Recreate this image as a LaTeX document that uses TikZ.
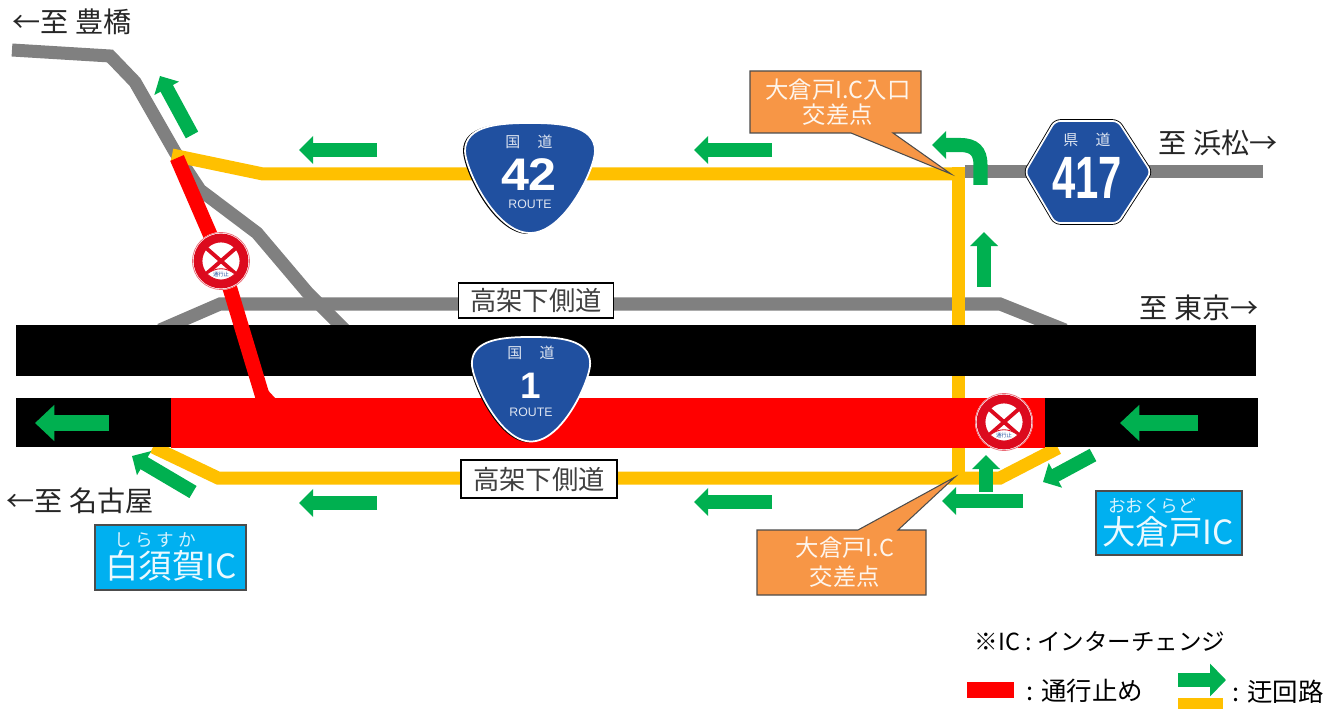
\documentclass[tikz,border=0pt]{standalone}
\usepackage{fontspec}
\setmainfont{Liberation Sans}
\newfontfamily\jp{Noto Sans CJK JP}
\usetikzlibrary{arrows.meta}
\definecolor{roadgray}{HTML}{808080}
\definecolor{detourgold}{HTML}{FFC000}
\definecolor{detourgreen}{HTML}{00B050}
\definecolor{closedred}{HTML}{FF0000}
\definecolor{signred}{HTML}{DC0A1E}
\definecolor{shieldblue}{HTML}{2050A0}
\definecolor{icblue}{HTML}{00B0F0}
\definecolor{calloutorange}{HTML}{F79646}
\newcommand{\fsize}[1]{\fontsize{#1}{#1}\selectfont}
\tikzset{
  routeshield/.pic={
    \fill[black] (-2,0) .. controls (-32,0) and (-67,2) .. (-67,28) .. controls (-67,46) and (-37,111) .. (-2,111) -- (2,0) -- cycle;
    \draw[fill=shieldblue,draw=white,line width=1pt] (0,0) .. controls (-30,0) and (-65,2) .. (-65,28) .. controls (-65,45) and (-35,110) .. (0,110) .. controls (35,110) and (65,45) .. (65,28) .. controls (65,2) and (30,0) .. (0,0) -- cycle;
  },
  closedsign/.pic={
    \fill[white] (0,0) circle (29);
    \draw[signred!60,line width=.4pt] (0,0) circle (28.5);
    \draw[signred,line width=5pt] (0,0) circle (23);
    \draw[signred,line width=2.2pt] (-16,-14) -- (16,14) (16,-14) -- (-16,14);
    \fill[white,draw=signred,line width=.5pt] (-14,13) .. controls (-5,6) and (5,6) .. (14,13) .. controls (5,21) and (-5,21) .. (-14,13);
    \node[text=shieldblue,inner sep=0pt] (note) at (0,14) {\jp\fsize{3}通行止};
  }
}
\begin{document}
\begin{tikzpicture}[x=0.02cm,y=-0.02cm]
    \tikzstyle{road}=[line width=7.4pt,roadgray]
    \tikzstyle{goldroad}=[line width=7.4pt,detourgold]
    \tikzstyle{closed}=[line width=8.4pt,closedred]
    \tikzstyle{detour}=[line width=8pt,detourgreen,-{Triangle[length=8pt,width=15.5pt]}]
    \tikzstyle{bigdetour}=[line width=9.5pt,detourgreen,-{Triangle[length=11pt,width=20pt]}]
    \tikzstyle{lettering}=[inner sep=0pt,font=\jp\fsize{16},text=black!85]
    \tikzstyle{legendtext}=[inner sep=0pt,font=\jp\fsize{14.5},text=black]
    \tikzstyle{sidebox}=[draw=black,line width=.8pt,fill=white,inner sep=0pt,font=\jp\fsize{15},text=black!75]
    \tikzstyle{callout}=[fill=calloutorange,draw=black!70,line width=.6pt]
    \tikzstyle{calltext}=[inner sep=0pt,font=\jp\fsize{13.3},text=white!90!calloutorange]
    \tikzstyle{icbox}=[fill=icblue,draw=black!70,line width=.8pt]
    \tikzstyle{digits}=[inner sep=0pt,text=white,text depth=0pt]
    \tikzstyle{smallwhite}=[inner sep=0pt,text=white!85!shieldblue]
    \useasboundingbox (0,0) rectangle (1338,709);

    % ordinary roads
    \draw[road] (12,50) -- (110,56) -- (135,82) -- (175,152) -- (200,190) -- (257,233) -- (307,292) -- (345,330);
    \draw[road] (160,330) -- (220,304) -- (1000,304) -- (1065,330);
    \draw[road] (965,171.5) -- (1263,171.5);

    % detour on the ordinary roads
    \draw[goldroad] (172,155) -- (263,174) -- (958,174);
    \draw[goldroad] (958,167) -- (958,484);
    \draw[goldroad] (153,447) -- (218,478) -- (1000,478) -- (1058,448);

    % expressway
    \fill[black] (16,325) rectangle (1256,376);
    \fill[black] (16,398) rectangle (1258,447);
    \fill[closedred] (171,398) rectangle (1045,448);
    \draw[closed] (177,158) -- (222,262) -- (263,398);
    \fill[closedred] (256,398) -- (264,386) -- (275,398) -- cycle;

    % callouts
    \draw[callout] (750,71) -- (921,71) -- (921,133) -- (893,133) -- (951,174) -- (851,133) -- (750,133) -- cycle;
    \draw[callout] (757,530) -- (858,530) -- (955,477) -- (898,530) -- (926,530) -- (926,595) -- (757,595) -- cycle;
    \foreach \name/\x/\y/\txt in {entrance/838/90/大倉戸I.C入口, entrance-b/838/115/交差点, crossing/845/548/大倉戸I.C, crossing-b/845/577/交差点}
        \node[calltext] (\name) at (\x,\y) {\txt};

    % green arrows
    \foreach \x/\y/\tx/\ty in {192/135/160/76, 377/150/299/150, 772/150/694/150, 984/287/984/232, 1093/455/1043/482, 193/492/132/456, 377/503/299/503, 772/502/694/502, 1023/501/942/501, 986/492/986/455}
        \draw[detour] (\x,\y) -- (\tx,\ty);
    \foreach \x/\tx in {109/35, 1198/1120}
        \draw[bigdetour] (\x,423) -- (\tx,423);
    \draw[detour] (980.5,185) -- (980.5,165) .. controls (980.5,151) and (974,145) .. (960,145) -- (932,145);
    \draw[detour,-{Triangle[length=9pt,width=18pt]}] (1178,680) -- (1226,680);

    % route shields
    \pic[xscale=1,yscale=1] (sh42) at (530,123) {routeshield};
    \pic[xscale=.91,yscale=.95] (sh1) at (531,337) {routeshield};
    \draw[fill=shieldblue,draw=white,line width=1pt,preaction={draw=black,line width=2pt},rounded corners=3pt] (1055,121) -- (1118,121) -- (1151,172) -- (1118,223) -- (1055,223) -- (1025,172) -- cycle;
    \foreach \name/\x/\y/\txt in {k42/529/142/国\hspace{1.15em}道, k1/531/353/国\hspace{1.15em}道, k417/1087/140/県\hspace{1.15em}道}
        \node[smallwhite,font=\jp\fsize{8.5}] (\name) at (\x,\y) {\txt};
    \node[digits,text height=18.6pt,font=\bfseries\fsize{26},xscale=1.1] (n42) at (529,174) {42};
    \node[digits,text height=15pt,font=\bfseries\fsize{21}] (n1) at (531,385) {1};
    \node[digits,text height=24.4pt,font=\bfseries\fsize{34},xscale=.7] (n417) at (1087,177) {417};
    \node[smallwhite,text height=5.5pt,text depth=0pt,font=\fsize{7}] (r42) at (530,204) {ROUTE};
    \node[smallwhite,text height=5.5pt,text depth=0pt,font=\fsize{7}] (r1) at (531,412) {ROUTE};

    % frontage road boxes
    \node[sidebox,minimum width=155*0.02cm,minimum height=35*0.02cm] (side-up) at (536,300.5) {高架下側道};
    \node[sidebox,minimum width=156*0.02cm,minimum height=38*0.02cm] (side-low) at (539,479) {高架下側道};

    % closure signs
    \pic (sign-a) at (221,261) {closedsign};
    \pic (sign-b) at (1004,422) {closedsign};

    % interchange boxes
    \draw[icbox] (95,525) rectangle (246,590);
    \draw[icbox] (1096,491) rectangle (1242,555);
    \node[inner sep=0pt,text=white!85!icblue,font=\jp\fsize{10}] (kana-w) at (155,540) {\addfontfeature{LetterSpace=22}しらすか};
    \node[inner sep=0pt,text=white!92!icblue,font=\jp\fsize{19}] (ic-w) at (171,566) {白須賀IC};
    \node[inner sep=0pt,text=white!85!icblue,font=\jp\fsize{10}] (kana-e) at (1152,506) {おおくらど};
    \node[inner sep=0pt,text=white!92!icblue,font=\jp\fsize{19}] (ic-e) at (1168,532) {大倉戸IC};

    % place names and legend
    \foreach \name/\x/\y/\txt in {toyo/72/22/←至 豊橋, hama/1218/143/至 浜松→, tokyo/1199/308/至 東京→, nago/80/501/←至 名古屋}
        \node[lettering] (\name) at (\x,\y) {\txt};
    \node[legendtext,font=\jp\fsize{13.4}] (icnote) at (1100,641) {※IC : インターチェンジ};
    \fill[closedred] (967,682) rectangle (1014,698);
    \fill[detourgold] (1178,698) rectangle (1223,709);
    \node[legendtext] (legend-a) at (1085,691) {: 通行止め};
    \node[legendtext] (legend-b) at (1278,692) {: 迂回路};
\end{tikzpicture}
\end{document}
